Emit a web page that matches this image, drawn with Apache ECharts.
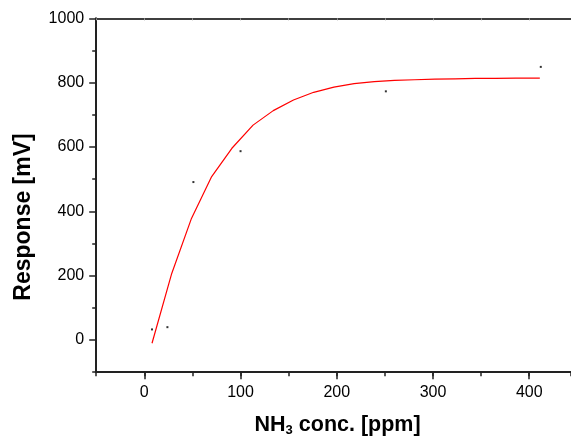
<!DOCTYPE html>
<html>
<head>
<meta charset="utf-8">
<script src="https://cdn.jsdelivr.net/npm/echarts@6/dist/echarts.min.js"></script>
<style>
html,body{margin:0;padding:0;background:#fff;}
#c{width:571px;height:445px;}
</style>
</head>
<body>
<div id="c"></div>
<script>
// Measured points (NH3 concentration in ppm, response in mV)
var dotsX = [8, 24, 51, 100, 251, 412];
var dotsY = [33, 40, 491, 587, 773, 849];
// Fitted curve vertices
var fitX = [8, 28.5, 49, 70, 91, 113, 134, 155, 176, 197, 218, 239, 260, 281, 302, 323, 344, 365, 386, 411];
var fitY = [-10, 207, 378, 508, 596, 668, 713, 746, 770, 786, 797, 803, 807, 809, 811, 812, 813, 813, 814, 814];
var xTicks = [0, 100, 200, 300, 400];
var yTicks = [0, 200, 400, 600, 800, 1000];

var FONT = 'Arial, "Liberation Sans", sans-serif';
var AX = '#222';
// the picture is cropped on the right: the visible end of the x axis
var X_MIN = -50, X_END = 443.4;

function zip(a, b) { return a.map(function (v, i) { return [v, b[i]]; }); }

var chart = echarts.init(document.getElementById('c'), null, {renderer: 'canvas'});
chart.setOption({
  animation: false,
  backgroundColor: '#fff',
  grid: [
    {left: 96.2, top: 18.3, width: 474.8, height: 353.9, containLabel: false},
    {left: 144.3, top: 18.3, width: 426.7, height: 321.7, containLabel: false}
  ],
  xAxis: [
    {
      gridIndex: 0, type: 'value', position: 'bottom', min: X_MIN, max: X_END, interval: 50,
      axisLine: {show: true, onZero: false, lineStyle: {color: AX, width: 2}},
      axisTick: {show: true, length: 4, lineStyle: {color: AX, width: 1.5}},
      axisLabel: {show: false}, splitLine: {show: false},
      name: 'NH{sub|3} conc. [ppm]', nameLocation: 'middle', nameGap: 40,
      nameTextStyle: {
        fontFamily: FONT, fontSize: 21.5, fontWeight: 'bold', color: '#000',
        padding: [0, 0, 0, 8],
        rich: {sub: {fontFamily: FONT, fontSize: 13, fontWeight: 'bold', color: '#000', verticalAlign: 'bottom', padding: [12, 0, 0, 0]}}
      }
    },
    {
      gridIndex: 0, type: 'value', position: 'top', min: X_MIN, max: X_END, interval: 50,
      axisLine: {show: true, onZero: false, lineStyle: {color: '#000', width: 1.5}},
      axisTick: {show: true, inside: true, length: 2, lineStyle: {color: '#999', width: 1}},
      axisLabel: {show: false}, splitLine: {show: false}
    },
    {
      gridIndex: 1, type: 'value', position: 'bottom', offset: 32.2, min: 0, max: X_END, interval: 100,
      axisLine: {show: false, onZero: false},
      axisTick: {show: true, length: 7, lineStyle: {color: AX, width: 1.5}},
      axisLabel: {
        show: true, margin: 12, fontFamily: FONT, fontSize: 16, color: '#000',
        showMaxLabel: false,
        formatter: function (v) { return xTicks.indexOf(v) >= 0 ? String(v) : ''; }
      },
      splitLine: {show: false}
    }
  ],
  yAxis: [
    {
      gridIndex: 0, type: 'value', position: 'left', min: -100, max: 1000, interval: 100,
      axisLine: {show: true, onZero: false, lineStyle: {color: AX, width: 2}},
      axisTick: {show: true, length: 4, lineStyle: {color: AX, width: 1.5}},
      axisLabel: {show: false}, splitLine: {show: false}
    },
    {
      gridIndex: 1, type: 'value', position: 'left', offset: 48.1, min: 0, max: 1000, interval: 200,
      axisLine: {show: false, onZero: false},
      axisTick: {show: true, length: 7, lineStyle: {color: AX, width: 1.5}},
      axisLabel: {
        show: true, margin: 12, fontFamily: FONT, fontSize: 16, color: '#000',
        formatter: function (v) { return yTicks.indexOf(v) >= 0 ? String(v) : ''; }
      },
      splitLine: {show: false}
    }
  ],
  graphic: [
    {
      type: 'text', x: 24, y: 217, rotation: Math.PI / 2,
      style: {text: 'Response [mV]', font: 'bold 23px ' + FONT, fill: '#000', textAlign: 'center', textVerticalAlign: 'middle'}
    }
  ],
  series: [
    {
      type: 'line', xAxisIndex: 0, yAxisIndex: 0, data: zip(fitX, fitY),
      showSymbol: false, symbol: 'none', smooth: false,
      lineStyle: {color: '#ff0000', width: 1.2}
    },
    {
      type: 'scatter', xAxisIndex: 0, yAxisIndex: 0, data: zip(dotsX, dotsY),
      symbol: 'rect', symbolSize: 2, itemStyle: {color: '#000'}
    }
  ]
});
</script>
</body>
</html>
